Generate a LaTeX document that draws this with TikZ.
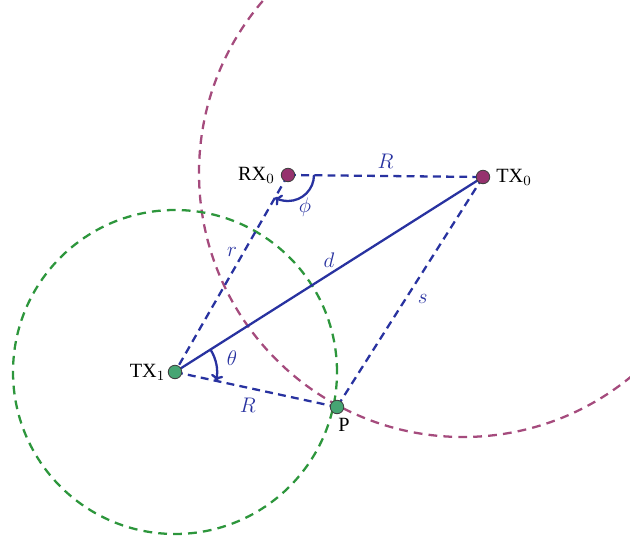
\documentclass[tikz,border=0pt]{standalone}
\usepackage{fontspec}
\setmainfont{Liberation Serif}
\usetikzlibrary{arrows.meta,backgrounds}
\definecolor{lineblue}{RGB}{40,50,160}
\definecolor{ringgreen}{RGB}{45,150,60}
\definecolor{ringpurple}{RGB}{165,75,125}
\definecolor{dotpurple}{RGB}{150,50,110}
\definecolor{dotgreen}{RGB}{70,165,115}
\begin{document}
\begin{tikzpicture}[x=0.02cm, y=0.02cm, every node/.style={font=\fontsize{11.5}{13}\selectfont},
  station/.style={circle,draw=black!75,line width=0.5pt,inner sep=0pt,minimum size=0.27cm},
  blueline/.style={lineblue,line width=1.3pt},
  bluedash/.style={blueline,dash pattern=on 4.5pt off 3pt},
  ringdash/.style={line width=1.3pt,dash pattern=on 5pt off 3.5pt},
  lbl/.style={text=lineblue,font=\fontsize{12.5}{14}\selectfont}]
  \useasboundingbox (0,0) rectangle (630,-544);
  % stations
  \node[station,fill=dotpurple] (rx0) at (288,-175) {};
  \node[station,fill=dotpurple] (tx0) at (483,-177) {};
  \node[station,fill=dotgreen] (tx1) at (175,-372) {};
  \node[station,fill=dotgreen] (p) at (337,-407) {};
  \node[anchor=east] (rx0lbl) at (rx0.west) {RX$_0$};
  \node[anchor=west] (tx0lbl) at (tx0.east) {TX$_0$};
  \node[anchor=east,xshift=2pt] (tx1lbl) at (tx1.west) {TX$_1$};
  \node[anchor=north,xshift=4pt,yshift=1pt] (plbl) at (p.south) {P};
  \begin{scope}[on background layer]
    % coverage rings
    \begin{scope}
      \clip (0,0) rectangle (630,-544);
      \draw[ringdash,ringpurple] (463,-173) circle (264);
    \end{scope}
    \draw[ringdash,ringgreen] (tx1.center) circle (162);
    % distances
    \draw[bluedash] (rx0.center) -- (tx0.center) node[lbl,midway,above] {$R$};
    \draw[bluedash] (rx0.center) -- (tx1.center) node[lbl,pos=0.39,left] {$r$};
    \draw[blueline] (tx1.center) -- (tx0.center) node[lbl,midway,above] {$d$};
    \draw[bluedash] (tx0.center) -- (p.center) node[lbl,pos=0.53,right=3pt] {$s$};
    \draw[bluedash] (tx1.center) -- (p.center) node[lbl,pos=0.45,below=2pt] {$R$};
    % angles
    \draw[blueline,-{To[length=3.5pt,width=7pt]}] ([shift={(0:26)}]rx0.center) arc[start angle=0,end angle=-119.8,radius=26];
    \draw[blueline,-{To[length=3.5pt,width=7pt]}] ([shift={(32.3:42)}]tx1.center) arc[start angle=32.3,end angle=-12.2,radius=42];
  \end{scope}
  \node[lbl] (phi) at (305,-207) {$\phi$};
  \node[lbl] (theta) at (232,-358) {$\theta$};
\end{tikzpicture}
\end{document}
